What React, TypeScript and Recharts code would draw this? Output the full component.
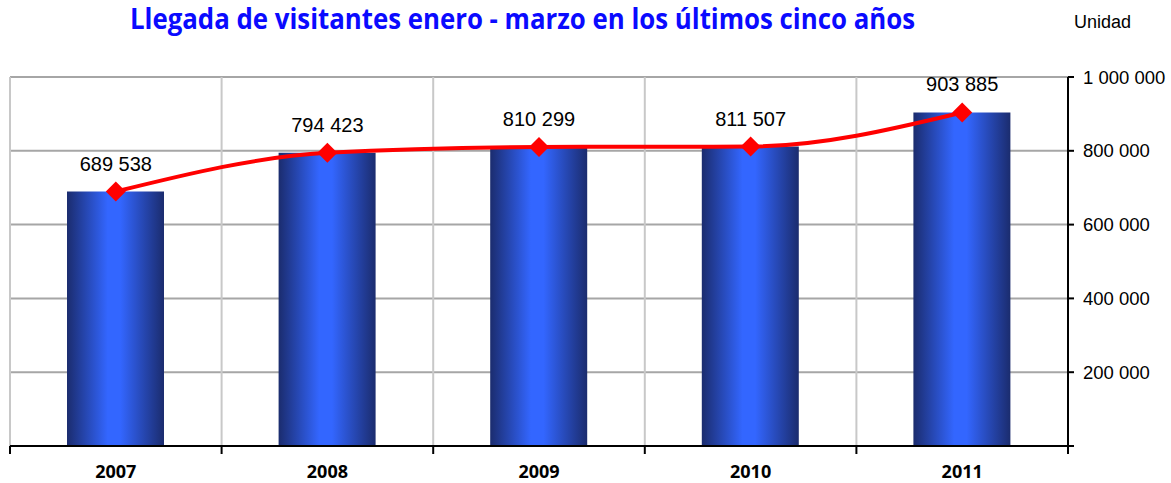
import React from "react";
import {
  ComposedChart, Bar, Line, XAxis, YAxis, CartesianGrid,
} from "recharts";

const YEARS = ["2007", "2008", "2009", "2010", "2011"];
const VISITORS = [689538, 794423, 810299, 811507, 903885];
const Y_TICKS = [0, 200000, 400000, 600000, 800000, 1000000];

const W = 1171;
const H = 483;
const LEFT = 10;
const AXIS_W = 103;
const PLOT_W = W - LEFT - AXIS_W;
const BAND = PLOT_W / YEARS.length;

const data = YEARS.map((year, i) => ({ year, visitors: VISITORS[i] }));

const fmt = (v: number) => String(v).replace(/\B(?=(\d{3})+(?!\d))/g, " ");

const XTick = (props: any) => {
  const { x, y, payload, index } = props;
  const left = x - BAND / 2;
  return (
    <g>
      <line x1={left} y1={y} x2={left} y2={y + 8} stroke="#000" strokeWidth={2} />
      {index === YEARS.length - 1 && (
        <line x1={x + BAND / 2} y1={y} x2={x + BAND / 2} y2={y + 8} stroke="#000" strokeWidth={2} />
      )}
      <text
        x={x}
        y={y + 32}
        textAnchor="middle"
        fontFamily="'Open Sans', sans-serif"
        fontWeight={700}
        fontSize={18}
        fill="#000"
      >
        {payload.value}
      </text>
    </g>
  );
};

const Diamond = (props: any) => {
  const { cx, cy } = props;
  if (cx == null || cy == null) return null;
  const r = 10;
  return (
    <polygon
      points={`${cx},${cy - r} ${cx + r},${cy} ${cx},${cy + r} ${cx - r},${cy}`}
      fill="#ff0000"
    />
  );
};

const ValueLabel = (props: any) => {
  const { x, y, value } = props;
  return (
    <text
      x={x}
      y={y - 21}
      textAnchor="middle"
      fontFamily="'Liberation Sans', Arial, sans-serif"
      fontSize={20}
      fill="#000"
    >
      {fmt(value)}
    </text>
  );
};

export default function App() {
  return (
    <div style={{ position: "absolute", left: 0, top: 0, width: W, height: H, background: "#fff" }}>
      <ComposedChart
        width={W}
        height={H}
        data={data}
        margin={{ top: 77, right: 0, bottom: 0, left: LEFT }}
      >
        <defs>
          <linearGradient id="barGrad" x1="0" y1="0" x2="1" y2="0">
            <stop offset="0%" stopColor="#1b2c6e" />
            <stop offset="42%" stopColor="#3366ff" />
            <stop offset="55%" stopColor="#3366ff" />
            <stop offset="100%" stopColor="#1b2c6e" />
          </linearGradient>
        </defs>
        <CartesianGrid
          stroke="#a6a6a6"
          strokeWidth={2}
          vertical={false}
        />
        <CartesianGrid
          stroke="#c8c8c8"
          strokeWidth={2}
          horizontal={false}
          verticalCoordinatesGenerator={({ offset }: any) =>
            YEARS.map((_, i) => offset.left + (i * offset.width) / YEARS.length)
          }
        />
        <XAxis
          dataKey="year"
          height={37}
          axisLine={{ stroke: "#000", strokeWidth: 2 }}
          tickLine={false}
          tickSize={0}
          tickMargin={0}
          tick={<XTick />}
          interval={0}
        />
        <YAxis
          orientation="right"
          width={AXIS_W}
          domain={[0, 1000000]}
          ticks={Y_TICKS}
          axisLine={{ stroke: "#000", strokeWidth: 2 }}
          tickLine={{ stroke: "#000", strokeWidth: 2 }}
          tickSize={6}
          tickMargin={9}
          tickFormatter={(v: number) => (v === 0 ? "" : fmt(v))}
          tick={{ fill: "#000", fontFamily: "'Liberation Sans', Arial, sans-serif", fontSize: 18.5, textAnchor: "start" }}
        />
        <Bar dataKey="visitors" barSize={97} fill="url(#barGrad)" isAnimationActive={false} />
        <Line
          dataKey="visitors"
          type="monotone"
          stroke="#ff0000"
          strokeWidth={4}
          dot={<Diamond />}
          activeDot={false}
          label={<ValueLabel />}
          isAnimationActive={false}
        />
      </ComposedChart>
      <svg
        width={W}
        height={H}
        style={{ position: "absolute", left: 0, top: 0, pointerEvents: "none" }}
      >
        <text
          x={130}
          y={29}
          textLength={785}
          lengthAdjust="spacingAndGlyphs"
          fontFamily="'Open Sans', sans-serif"
          fontWeight={700}
          fontSize={28}
          fill="#0a0aff"
        >
          Llegada de visitantes enero - marzo en los últimos cinco años
        </text>
        <text
          x={1074}
          y={28}
          fontFamily="'Liberation Sans', Arial, sans-serif"
          fontSize={18}
          fill="#000"
        >
          Unidad
        </text>
      </svg>
    </div>
  );
}
